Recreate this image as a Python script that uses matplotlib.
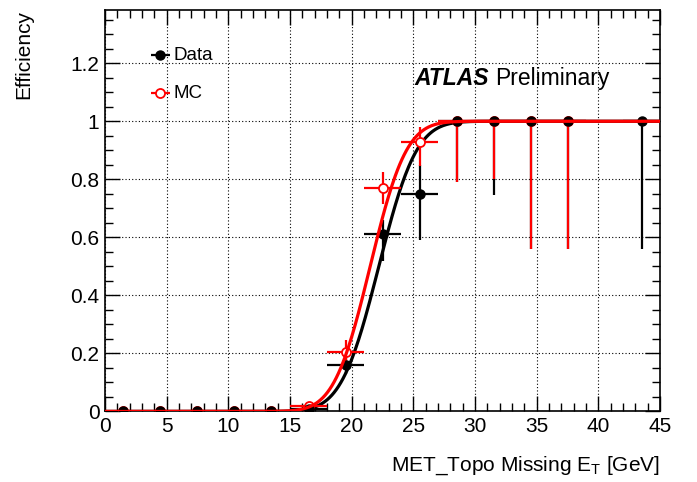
import math
import numpy as np
import matplotlib
matplotlib.use("Agg")
import matplotlib.pyplot as plt
from matplotlib.ticker import MultipleLocator

plt.rcParams['font.family'] = ['Liberation Sans', 'DejaVu Sans']

# ---- data ----
data_x = [1.5, 4.5, 7.5, 10.5, 13.5, 16.5, 19.5, 22.5, 25.5, 28.5, 31.5, 34.5, 37.5, 43.5]
data_y = [0, 0, 0, 0, 0, 0.01, 0.16, 0.61, 0.75, 1, 1, 1, 1, 1]
data_ylo = [0, 0, 0, 0, 0, 0.01, 0.03, 0.09, 0.16, 0.21, 0.255, 0.44, 0.44, 0.44]
data_yhi = [0, 0, 0, 0, 0, 0.01, 0.04, 0.05, 0.10, 0, 0, 0, 0, 0]

mc_x = [1.5, 4.5, 7.5, 10.5, 13.5, 16.5, 19.5, 22.5, 25.5, 28.5, 31.5, 34.5, 37.5]
mc_y = [0, 0, 0, 0, 0, 0.02, 0.205, 0.77, 0.93, 1, 1, 1, 1]
mc_ylo = [0, 0, 0, 0, 0, 0.01, 0.03, 0.055, 0.085, 0.21, 0.20, 0.44, 0.44]
mc_yhi = [0, 0, 0, 0, 0, 0.01, 0.04, 0.055, 0.05, 0, 0, 0, 0]

bin_half_width = 1.5

# fit (error-function) parameters
data_fit_mu, data_fit_sigma = 22.2, 2.4
mc_fit_mu, mc_fit_sigma = 21.5, 2.3

def erf_curve(x, mu, sigma):
    return np.array([0.5 * (1 + math.erf((v - mu) / (math.sqrt(2) * sigma))) for v in x])

fig = plt.figure(figsize=(6.97, 4.82), dpi=100)
ax = fig.add_axes([0.1506, 0.1463, 0.7964, 0.8327])

xs = np.linspace(0, 45, 500)
ax.plot(xs, erf_curve(xs, data_fit_mu, data_fit_sigma), color='black', lw=2.3, zorder=2)

# error bars
ax.errorbar(data_x, data_y, yerr=[data_ylo, data_yhi], xerr=bin_half_width,
            fmt='none', ecolor='black', elinewidth=1.6, capsize=0, zorder=3)
ax.errorbar(mc_x, mc_y, yerr=[mc_ylo, mc_yhi], xerr=bin_half_width,
            fmt='none', ecolor='red', elinewidth=1.6, capsize=0, zorder=4)
# markers
ax.plot(mc_x, mc_y, 'o', color='red', mfc='white', mec='red', mew=1.3, ms=6.5, zorder=5)
ax.plot(data_x, data_y, 'o', color='black', ms=6.5, zorder=6)
ax.plot(xs, erf_curve(xs, mc_fit_mu, mc_fit_sigma), color='red', lw=2.3, zorder=7)

ax.set_xlim(0, 45)
ax.set_ylim(0, 1.383)
ax.xaxis.set_major_locator(MultipleLocator(5))
ax.xaxis.set_minor_locator(MultipleLocator(1))
ax.yaxis.set_minor_locator(MultipleLocator(0.05))
ax.set_yticks([0, 0.2, 0.4, 0.6, 0.8, 1.0, 1.2])
ax.set_yticklabels(['0', '0.2', '0.4', '0.6', '0.8', '1', '1.2'])
ax.tick_params(which='both', direction='in', top=True, right=True, labelsize=15, pad=4, width=1)
ax.tick_params(which='major', length=11)
ax.tick_params(which='minor', length=6)
ax.grid(True, which='major', color='black', linestyle=(0, (1, 2)), linewidth=0.8)
for s in ax.spines.values():
    s.set_linewidth(1.2)

ax.set_ylabel('Efficiency', fontsize=15, loc='top', labelpad=27)
ax.set_xlabel(r'MET_Topo Missing E$_{\mathregular{T}}$ [GeV]', fontsize=15, loc='right', labelpad=13)

# legend
lx, ldx = 0.1, 0.017
ax.errorbar([lx], [0.888], xerr=[[ldx], [ldx]], fmt='o', color='black', ms=6.5,
            elinewidth=1.6, transform=ax.transAxes, clip_on=False, zorder=8)
ax.errorbar([lx], [0.793], xerr=[[ldx], [ldx]], fmt='o', color='red', mfc='white',
            mec='red', mew=1.3, ms=6.5, elinewidth=1.6, transform=ax.transAxes,
            clip_on=False, zorder=8)
ax.text(0.124, 0.888, 'Data', transform=ax.transAxes, fontsize=13.5, va='center')
ax.text(0.124, 0.793, 'MC', transform=ax.transAxes, fontsize=13.5, va='center')

ax.text(0.557, 0.83, 'ATLAS', transform=ax.transAxes, fontsize=16.5, fontweight='bold',
        fontstyle='italic', va='center')
ax.text(0.703, 0.83, 'Preliminary', transform=ax.transAxes, fontsize=16.5, va='center')

fig.savefig('out.png', dpi=100)
